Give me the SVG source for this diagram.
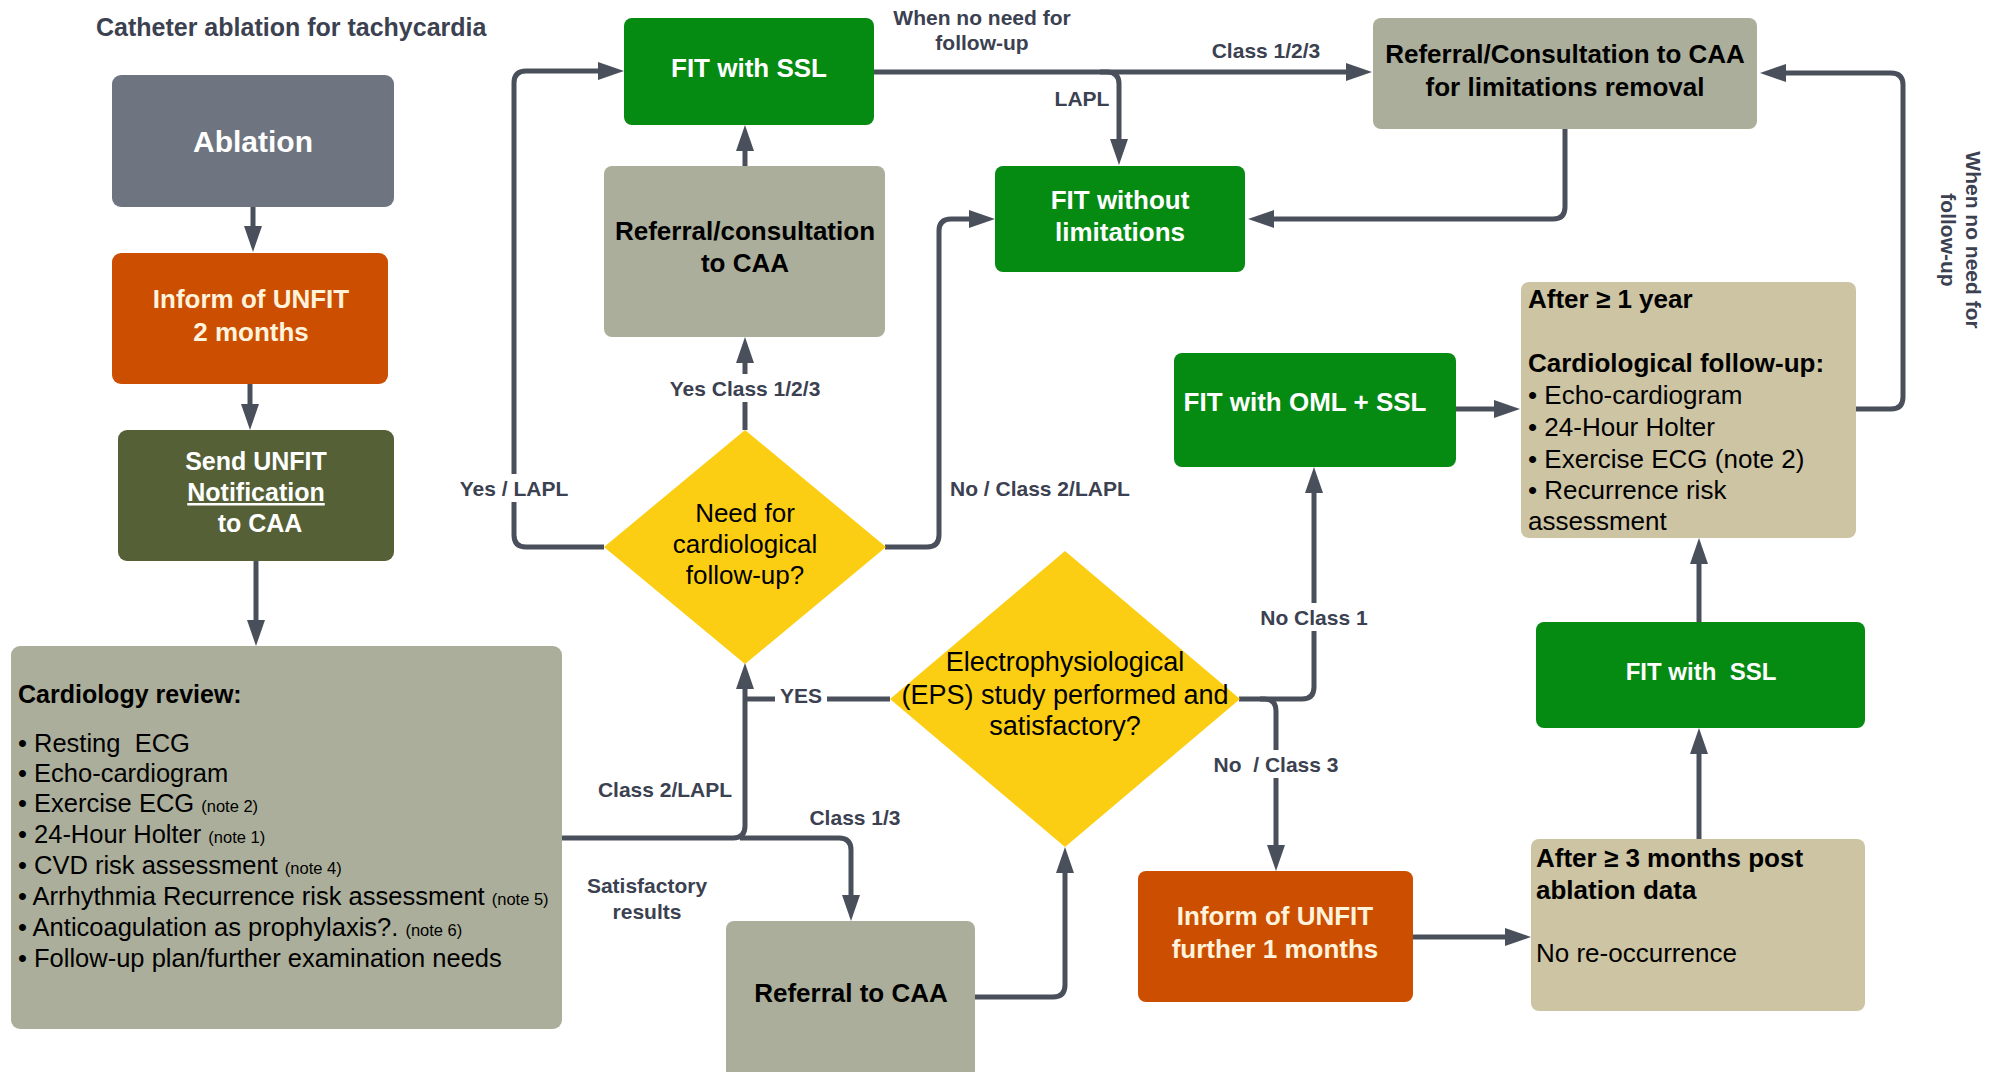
<svg xmlns="http://www.w3.org/2000/svg" width="2000" height="1072" viewBox="0 0 2000 1072">
<defs>
<marker id="ah" markerUnits="userSpaceOnUse" markerWidth="28" markerHeight="20" refX="4" refY="9" orient="auto">
<path d="M0,0 L26,9 L0,18 z" fill="#4a505b"/>
</marker>
<style>
text{font-family:"Liberation Sans",Arial,sans-serif}
.c{fill:none;stroke:#4a505b;stroke-width:5}
.a{marker-end:url(#ah)}
.lb{font-size:21px;font-weight:bold;fill:#3b4150}
.bg{fill:#fff}
.w{fill:#fff;font-weight:bold;font-size:26px;text-anchor:middle}
.cr{fill:#fff3dc;font-weight:bold;font-size:26px;text-anchor:middle}
.k{fill:#000;font-size:26px}
.kb{fill:#000;font-size:26px;font-weight:bold}
.m{text-anchor:middle}
.gg{fill:#abae9a}
.gr{fill:#058a12}
.tan{fill:#cdc4a3}
.yl{fill:#fbce14}
.or{fill:#cc4e00}
.rv{font-size:25.5px}
.note{font-size:16.5px}
</style>
</defs>
<rect width="2000" height="1072" fill="#fff"/>
<text x="96" y="36" font-size="25" font-weight="bold" fill="#3b4150">Catheter ablation for tachycardia</text>

<g id="connectors">
<path class="c a" d="M253,207 V230"/>
<path class="c a" d="M250,384 V408"/>
<path class="c a" d="M256,561 V624"/>
<path class="c a" d="M604,547 H526 Q514,547 514,535 V83 Q514,71 526,71 H602"/>
<path class="c a" d="M745,430 V359"/>
<path class="c a" d="M745,166 V147"/>
<path class="c a" d="M885,547 H927 Q939,547 939,535 V231 Q939,219 951,219 H973"/>
<path class="c a" d="M874,72 H1350"/>
<path class="c a" d="M1100,72 H1107 Q1119,72 1119,84 V143"/>
<path class="c a" d="M1565,129 V207 Q1565,219 1553,219 H1270"/>
<path class="c a" d="M1856,409 H1891 Q1903,409 1903,397 V85 Q1903,73 1891,73 H1782"/>
<path class="c a" d="M1456,409 H1498"/>
<path class="c a" d="M1699,622 V560"/>
<path class="c a" d="M1699,839 V750"/>
<path class="c a" d="M1413,937 H1509"/>
<path class="c a" d="M1239,699 H1302 Q1314,699 1314,687 V489"/>
<path class="c a" d="M1260,699 H1264 Q1276,699 1276,711 V849"/>
<path class="c" d="M890,699 H745"/>
<path class="c a" d="M562,838 H733 Q745,838 745,826 V685"/>
<path class="c a" d="M740,838 H839 Q851,838 851,850 V899"/>
<path class="c a" d="M975,997 H1053 Q1065,997 1065,985 V869"/>
<rect class="bg" x="456" y="474" width="116" height="28"/>
<rect class="bg" x="663" y="374" width="164" height="28"/>
<rect class="bg" x="775" y="681" width="52" height="28"/>
<rect class="bg" x="1256" y="603" width="116" height="28"/>
<rect class="bg" x="1208" y="750" width="136" height="28"/>
<text class="lb m" x="982" y="25">When no need for</text>
<text class="lb m" x="982" y="50">follow-up</text>
<text class="lb m" x="1266" y="58">Class 1/2/3</text>
<text class="lb m" x="1082" y="106">LAPL</text>
<text class="lb m" x="514" y="496">Yes / LAPL</text>
<text class="lb m" x="745" y="396">Yes Class 1/2/3</text>
<text class="lb" x="950" y="496">No / Class 2/LAPL</text>
<text class="lb m" x="801" y="703">YES</text>
<text class="lb m" x="665" y="797">Class 2/LAPL</text>
<text class="lb m" x="855" y="825">Class 1/3</text>
<text class="lb m" x="647" y="893">Satisfactory</text>
<text class="lb m" x="647" y="919">results</text>
<text class="lb m" x="1314" y="625">No Class 1</text>
<text class="lb m" x="1276" y="772" style="white-space:pre">No  / Class 3</text>
<g transform="translate(1966,240) rotate(90)">
<text class="lb m" x="0" y="0">When no need for</text>
<text class="lb m" x="0" y="25">follow-up</text>
</g>
</g>

<g id="ablation">
<rect x="112" y="75" width="282" height="132" rx="9" fill="#6e7480"/>
<text class="w" x="253" y="152" style="font-size:30px">Ablation</text>
</g>
<g id="inform-unfit-2m">
<rect class="or" x="112" y="253" width="276" height="131" rx="9"/>
<text class="cr" x="251" y="308">Inform of UNFIT</text>
<text class="cr" x="251" y="341">2 months</text>
</g>
<g id="send-unfit">
<rect x="118" y="430" width="276" height="131" rx="9" fill="#556037"/>
<text class="w" x="256" y="470" style="font-size:25px">Send UNFIT</text>
<text class="w" x="256" y="501" style="font-size:25px;text-decoration:underline">Notification</text>
<text class="w" x="260" y="532" style="font-size:25px">to CAA</text>
</g>
<g id="cardiology-review">
<rect class="gg" x="11" y="646" width="551" height="383" rx="9"/>
<text class="kb" x="18" y="703" style="font-size:25px">Cardiology review:</text>
<text class="k rv" x="18" y="752" style="white-space:pre">• Resting  ECG</text>
<text class="k rv" x="18" y="782">• Echo-cardiogram</text>
<text class="k rv" x="18" y="812">• Exercise ECG <tspan class="note">(note 2)</tspan></text>
<text class="k rv" x="18" y="843">• 24-Hour Holter <tspan class="note">(note 1)</tspan></text>
<text class="k rv" x="18" y="874">• CVD risk assessment <tspan class="note">(note 4)</tspan></text>
<text class="k rv" x="18" y="905">• Arrhythmia Recurrence risk assessment <tspan class="note">(note 5)</tspan></text>
<text class="k rv" x="18" y="936">• Anticoagulation as prophylaxis?. <tspan class="note">(note 6)</tspan></text>
<text class="k rv" x="18" y="967">• Follow-up plan/further examination needs</text>
</g>
<g id="fit-ssl-top">
<rect class="gr" x="624" y="18" width="250" height="107" rx="8"/>
<text class="w" x="749" y="77">FIT with SSL</text>
</g>
<g id="referral-consultation">
<rect class="gg" x="604" y="166" width="281" height="171" rx="8"/>
<text class="kb m" x="745" y="240">Referral/consultation</text>
<text class="kb m" x="745" y="272">to CAA</text>
</g>
<g id="need-followup">
<polygon class="yl" points="745,430 886,547 745,664 604,547"/>
<text class="k m" x="745" y="522">Need for</text>
<text class="k m" x="745" y="553">cardiological</text>
<text class="k m" x="745" y="584">follow-up?</text>
</g>
<g id="fit-without">
<rect class="gr" x="995" y="166" width="250" height="106" rx="8"/>
<text class="w" x="1120" y="209">FIT without</text>
<text class="w" x="1120" y="241">limitations</text>
</g>
<g id="referral-removal">
<rect class="gg" x="1373" y="18" width="384" height="111" rx="8"/>
<text class="kb m" x="1565" y="63">Referral/Consultation to CAA</text>
<text class="kb m" x="1565" y="96">for limitations removal</text>
</g>
<g id="fit-oml-ssl">
<rect class="gr" x="1174" y="353" width="282" height="114" rx="8"/>
<text class="w" x="1305" y="411">FIT with OML + SSL</text>
</g>
<g id="after-1-year">
<rect class="tan" x="1521" y="282" width="335" height="256" rx="8"/>
<text class="kb" x="1528" y="308">After ≥ 1 year</text>
<text class="kb" x="1528" y="372">Cardiological follow-up:</text>
<text class="k" x="1528" y="404">• Echo-cardiogram</text>
<text class="k" x="1528" y="436">• 24-Hour Holter</text>
<text class="k" x="1528" y="468">• Exercise ECG (note 2)</text>
<text class="k" x="1528" y="499">• Recurrence risk</text>
<text class="k" x="1528" y="530">assessment</text>
</g>
<g id="fit-ssl-right">
<rect class="gr" x="1536" y="622" width="329" height="106" rx="8"/>
<text class="w" x="1701" y="680" style="font-size:24px;white-space:pre">FIT with  SSL</text>
</g>
<g id="eps-study">
<polygon class="yl" points="1065,551 1240,699 1065,847 890,699"/>
<text class="k m" x="1065" y="671" style="font-size:27px">Electrophysiological</text>
<text class="k m" x="1065" y="704" style="font-size:27px">(EPS) study performed and</text>
<text class="k m" x="1065" y="735" style="font-size:27px">satisfactory?</text>
</g>
<g id="referral-caa">
<rect class="gg" x="726" y="921" width="249" height="160" rx="8"/>
<text class="kb m" x="851" y="1002">Referral to CAA</text>
</g>
<g id="inform-unfit-1m">
<rect class="or" x="1138" y="871" width="275" height="131" rx="8"/>
<text class="cr" x="1275" y="925">Inform of UNFIT</text>
<text class="cr" x="1275" y="958">further 1 months</text>
</g>
<g id="after-3-months">
<rect class="tan" x="1531" y="839" width="334" height="172" rx="8"/>
<text class="kb" x="1536" y="867">After ≥ 3 months post</text>
<text class="kb" x="1536" y="899">ablation data</text>
<text class="k" x="1536" y="962">No re-occurrence</text>
</g>
</svg>
